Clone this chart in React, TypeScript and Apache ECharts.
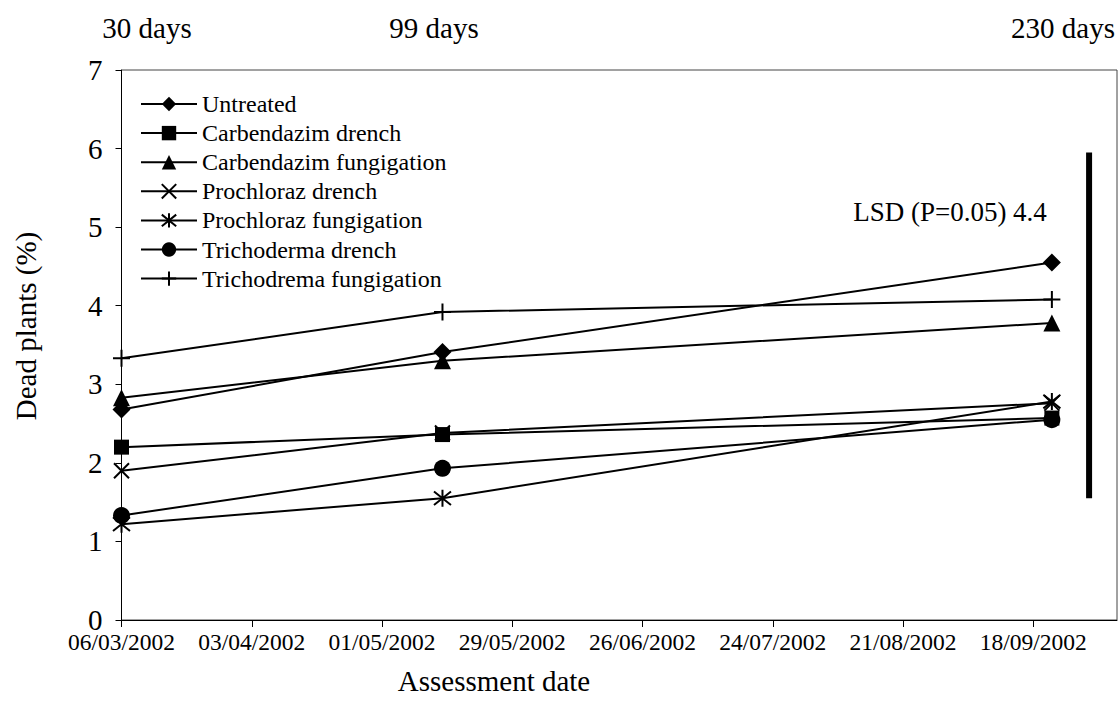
import React, { useEffect, useRef } from 'react';
import * as echarts from 'echarts';

// Assessment dates (dd/mm/yyyy) and the date range of the horizontal axis
const assessmentDates = ['06/03/2002', '14/05/2002', '22/09/2002'];
const axisStartDate = '06/03/2002';
const axisEndDate = '06/10/2002';
const tickStepDays = 28;
const tickCount = 8;

// Dead plants (%) per treatment at each assessment
const seriesNames = [
  'Untreated',
  'Carbendazim drench',
  'Carbendazim fungigation',
  'Prochloraz drench',
  'Prochloraz fungigation',
  'Trichoderma drench',
  'Trichodrema fungigation',
];
const untreated = [2.68, 3.41, 4.55];
const carbendazimDrench = [2.2, 2.36, 2.57];
const carbendazimFungigation = [2.83, 3.3, 3.78];
const prochlorazDrench = [1.9, 2.38, 2.76];
const prochlorazFungigation = [1.22, 1.55, 2.78];
const trichodermaDrench = [1.33, 1.93, 2.55];
const trichodremaFungigation = [3.33, 3.92, 4.08];

// Days after planting shown above the plot
const dayLabels = ['30 days', '99 days', '230 days'];

// Axis titles
const xTitle = 'Assessment date';
const yTitle = 'Dead plants (%)';

// Least significant difference bar
const lsdDate = '30/09/2002';
const lsdValue = 4.4;
const lsdLow = 1.55;
const lsdLabel = 'LSD (P=0.05) 4.4';

const FONT = 'Liberation Serif, Times New Roman, serif';
const DAY_MS = 86400000;

function parseDate(s: string): number {
  const [d, m, y] = s.split('/').map(Number);
  return Date.UTC(y, m - 1, d);
}

const t0 = parseDate(axisStartDate);
const toDay = (s: string) => Math.round((parseDate(s) - t0) / DAY_MS);
const pad = (n: number) => (n < 10 ? '0' + n : '' + n);
function dayToLabel(v: number): string {
  const dt = new Date(t0 + v * DAY_MS);
  return pad(dt.getUTCDate()) + '/' + pad(dt.getUTCMonth() + 1) + '/' + dt.getUTCFullYear();
}

const xMark = 'path://M0 0L20 20M20 0L0 20';
const starMark = 'path://M2 2L18 18M18 2L2 18M10 0L10 20';
const plusMark = 'path://M10 0L10 20M0 10L20 10';

const seriesValues = [
  untreated,
  carbendazimDrench,
  carbendazimFungigation,
  prochlorazDrench,
  prochlorazFungigation,
  trichodermaDrench,
  trichodremaFungigation,
];
const seriesSymbols = ['diamond', 'rect', 'triangle', xMark, starMark, 'circle', plusMark];
const seriesSymbolSizes = [18, 15, 17, 15, 17, 17, 17];
const strokedSymbol = [false, false, false, true, true, false, true];

function textEl(text: string, x: number, y: number, size: number, rotation = 0) {
  return {
    type: 'text',
    x,
    y,
    rotation,
    style: {
      text,
      fontFamily: FONT,
      fontSize: size,
      fill: '#000',
      align: 'center',
      verticalAlign: 'middle',
    },
  };
}

export default function App() {
  const ref = useRef<HTMLDivElement>(null);

  useEffect(() => {
    if (!ref.current) return;
    const chart = echarts.init(ref.current, null, { renderer: 'svg' });
    const xDays = assessmentDates.map(toDay);
    const xMax = toDay(axisEndDate);
    const tickValues = Array.from({ length: tickCount }, (_, i) => i * tickStepDays);
    const lsdX = toDay(lsdDate);

    const lineSeries = seriesNames.map((name, i) => ({
      name,
      type: 'line',
      data: seriesValues[i].map((v, j) => [xDays[j], v]),
      symbol: seriesSymbols[i],
      symbolSize: seriesSymbolSizes[i],
      showAllSymbol: true,
      lineStyle: { color: '#000', width: 2 },
      itemStyle: {
        color: '#000',
        borderColor: '#000',
        borderWidth: strokedSymbol[i] ? 2 : 0,
      },
      emphasis: { disabled: true },
      z: 3,
    }));

    const option: any = {
      animation: false,
      backgroundColor: '#fff',
      textStyle: { fontFamily: FONT, color: '#000' },
      grid: {
        left: 121.5,
        right: 3,
        top: 70,
        bottom: 81,
        show: true,
        borderColor: '#444',
        borderWidth: 1,
        backgroundColor: 'transparent',
      },
      legend: {
        data: seriesNames,
        orient: 'vertical',
        left: 140,
        top: 92,
        padding: 0,
        itemWidth: 56,
        itemHeight: 18,
        itemGap: 5.1,
        selectedMode: false,
        textStyle: { fontFamily: FONT, fontSize: 24, color: '#000', lineHeight: 24 },
      },
      xAxis: {
        type: 'value',
        min: 0,
        max: xMax,
        interval: tickStepDays,
        axisLine: { show: true, lineStyle: { color: '#000', width: 1 } },
        axisTick: { show: true, length: 7, lineStyle: { color: '#000' }, customValues: tickValues },
        axisLabel: {
          fontFamily: FONT,
          fontSize: 23.5,
          lineHeight: 20,
          color: '#000',
          margin: 12,
          customValues: tickValues,
          formatter: (v: number) => dayToLabel(v),
        },
        splitLine: { show: false },
      },
      yAxis: {
        type: 'value',
        min: 0,
        max: 7,
        interval: 1,
        axisLine: { show: true, lineStyle: { color: '#000', width: 1 } },
        axisTick: { show: true, length: 6, lineStyle: { color: '#000' } },
        axisLabel: { fontFamily: FONT, fontSize: 29, lineHeight: 18, color: '#000', margin: 19 },
        splitLine: { show: false },
      },
      graphic: [
        textEl(dayLabels[0], 147, 28, 29),
        textEl(dayLabels[1], 434, 28, 29),
        textEl(dayLabels[2], 1063, 28, 29),
        textEl(lsdLabel, 950, 212, 27),
        textEl(xTitle, 494, 681, 29),
        textEl(yTitle, 26, 326, 29, Math.PI / 2),
      ],
      series: [
        ...lineSeries,
        {
          name: 'LSD',
          type: 'line',
          data: [
            [lsdX, lsdLow],
            [lsdX, lsdLow + lsdValue],
          ],
          symbol: 'none',
          lineStyle: { color: '#000', width: 6, cap: 'butt' },
          emphasis: { disabled: true },
          z: 2,
        },
      ],
    };

    chart.setOption(option);
    return () => chart.dispose();
  }, []);

  return (
    <div
      ref={ref}
      style={{ position: 'absolute', left: 0, top: 0, width: 1120, height: 701, background: '#fff' }}
    />
  );
}
